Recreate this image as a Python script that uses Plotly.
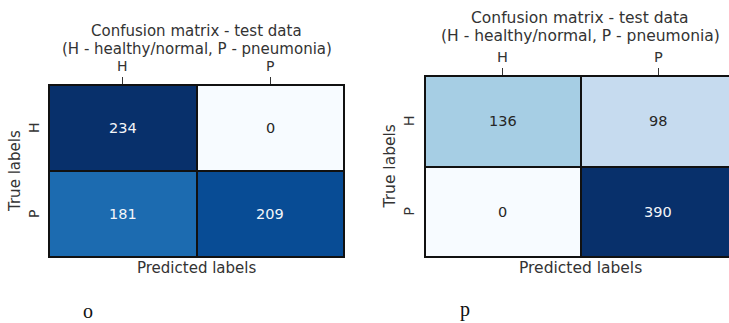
import plotly.graph_objects as go

# Confusion-matrix data (rows: true class, columns: predicted class)
classes = ["H", "P"]
cm_o = [[234, 0], [181, 209]]
cm_p = [[136, 98], [0, 390]]
panel_tags = ["o", "p"]
title_lines = ["Confusion matrix - test data", "(H - healthy/normal, P - pneumonia)"]
x_title = "Predicted labels"
y_title = "True labels"

# matplotlib "Blues" colormap
BLUES = [
    [0.0, "#f7fbff"], [0.125, "#deebf7"], [0.25, "#c6dbef"], [0.375, "#9ecae1"],
    [0.5, "#6baed6"], [0.625, "#4292c6"], [0.75, "#2171b5"], [0.875, "#08519c"],
    [1.0, "#08306b"],
]

W, H = 729, 323
FONT = "DejaVu Sans"
INK = "#333333"


def px_x(v):
    return v / W


def px_y(v):
    return 1 - v / H


# panel geometry in pixels
panels = [
    dict(cm=cm_o, l=49, r=344, t=85, b=257, xend=1.5, fs=15, tfs=14,
         xtick_y=66.5, ytick_x=34, ylab_x=15, xlab_y=268, title_y=(31, 49),
         tag_x=88, tag_y=311),
    dict(cm=cm_p, l=425, r=729, t=76, b=257, xend=1.455, fs=15.5, tfs=14.5,
         xtick_y=56.5, ytick_x=409, ylab_x=389, xlab_y=268, title_y=(18, 36),
         tag_x=465, tag_y=309),
]

fig = go.Figure()
annotations = []
layout_axes = {}

for k, p in enumerate(panels):
    sfx = "" if k == 0 else str(k + 1)
    xa, ya = "x" + sfx, "y" + sfx
    cm = p["cm"]
    zmax = max(max(row) for row in cm)
    fig.add_trace(go.Heatmap(
        z=cm, x=[0, 1], y=[0, 1], xaxis=xa, yaxis=ya,
        colorscale=BLUES, zmin=0, zmax=zmax, showscale=False,
        xgap=2, ygap=2, hoverinfo="skip",
    ))

    layout_axes["xaxis" + sfx] = dict(
        domain=[px_x(p["l"]), px_x(p["r"])], anchor=ya, side="top",
        range=[-0.5, p["xend"]], tickmode="array", tickvals=[0, 1],
        showticklabels=False, ticks="outside", ticklen=7, tickcolor=INK, tickwidth=1,
        showline=True, mirror=True, linecolor="#111111", linewidth=1,
        showgrid=False, zeroline=False, fixedrange=True,
    )
    layout_axes["yaxis" + sfx] = dict(
        domain=[px_y(p["b"]), px_y(p["t"])], anchor=xa,
        range=[1.5, -0.5], tickmode="array", tickvals=[0, 1],
        showticklabels=False, ticks="",
        showline=True, mirror=(k == 0), linecolor="#111111", linewidth=1,
        showgrid=False, zeroline=False, fixedrange=True,
    )

    # class tick labels: columns along the top, rows along the left (rotated)
    for idx, name in enumerate(classes):
        annotations.append(dict(
            x=idx, y=px_y(p["xtick_y"]), xref=xa, yref="paper", text=name,
            showarrow=False, xanchor="center", yanchor="middle",
            font=dict(family=FONT, size=p["tfs"], color=INK),
        ))
        annotations.append(dict(
            x=px_x(p["ytick_x"]), y=idx, xref="paper", yref=ya, text=name,
            textangle=-90, showarrow=False, xanchor="center", yanchor="middle",
            font=dict(family=FONT, size=p["tfs"], color=INK),
        ))

    # cell values
    for i, row in enumerate(cm):
        for j, v in enumerate(row):
            dark = v / zmax > 0.5
            annotations.append(dict(
                x=j, y=i, xref=xa, yref=ya, text=str(v), showarrow=False,
                font=dict(family=FONT, size=14.5, color="#f4f6f9" if dark else "#262626"),
            ))

    cx = (p["l"] + (p["l"] + (p["r"] - p["l"]) * 2 / (p["xend"] + 0.5))) / 2
    for line, yy in zip(title_lines, p["title_y"]):
        annotations.append(dict(
            x=px_x(cx), y=px_y(yy), xref="paper", yref="paper", text=line,
            showarrow=False, xanchor="center", yanchor="middle",
            font=dict(family=FONT, size=p["fs"], color=INK),
        ))
    annotations.append(dict(
        x=px_x(cx), y=px_y(p["xlab_y"]), xref="paper", yref="paper", text=x_title,
        showarrow=False, xanchor="center", yanchor="middle",
        font=dict(family=FONT, size=p["fs"], color=INK),
    ))
    annotations.append(dict(
        x=px_x(p["ylab_x"]), y=px_y((p["t"] + p["b"]) / 2), xref="paper", yref="paper",
        text=y_title, textangle=-90, showarrow=False, xanchor="center", yanchor="middle",
        font=dict(family=FONT, size=p["fs"], color=INK),
    ))
    annotations.append(dict(
        x=px_x(p["tag_x"]), y=px_y(p["tag_y"]), xref="paper", yref="paper",
        text=panel_tags[k], showarrow=False, xanchor="center", yanchor="middle",
        font=dict(family="Liberation Serif", size=20, color="#111111"),
    ))

fig.update_layout(
    width=W, height=H, margin=dict(l=0, r=0, t=0, b=0),
    paper_bgcolor="white", plot_bgcolor="#111111",
    annotations=annotations, showlegend=False, **layout_axes,
)

fig.write_html("out.html")
